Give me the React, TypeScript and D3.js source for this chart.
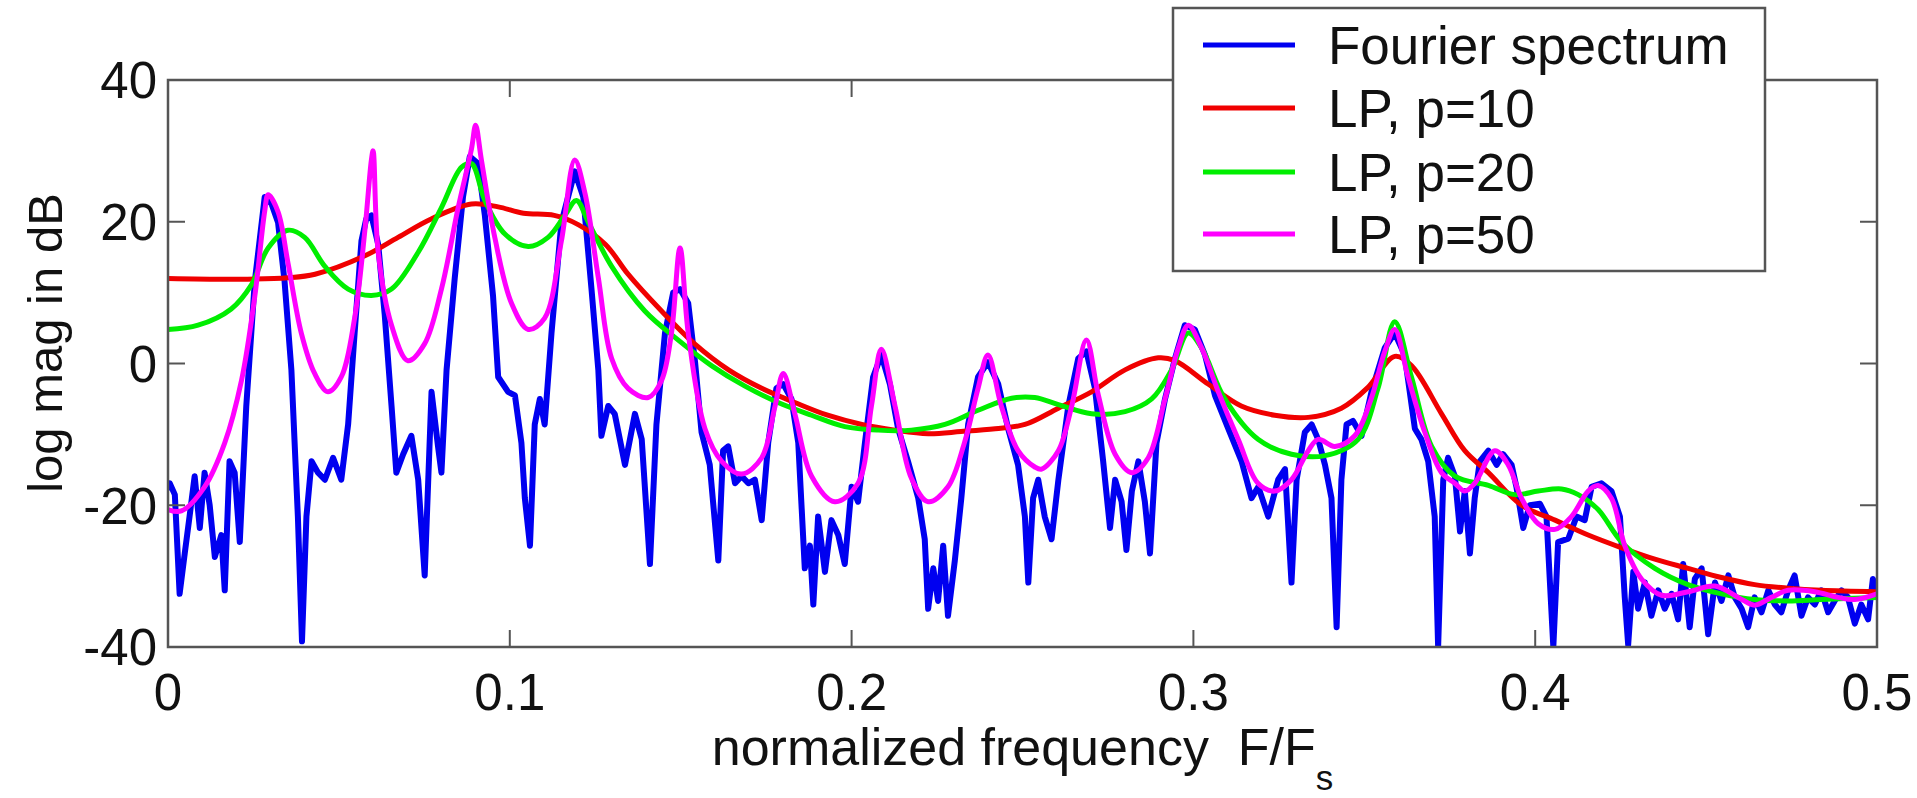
import { useEffect, useMemo } from 'react';
import { scaleLinear, line, curveLinear, curveCatmullRom } from 'd3';

// [normalized frequency, log magnitude in dB]
const fourierSpectrum: [number, number][] = [
  [0, -17.5], [0.0005, -16.9], [0.002, -18.5], [0.0034, -32.5], [0.0049, -26.8], [0.0063, -21.6],
  [0.0078, -15.9], [0.0093, -23.2], [0.0107, -15.4], [0.0122, -20], [0.0137, -27.3], [0.0156, -24.2],
  [0.0166, -32], [0.018, -13.8], [0.0195, -15.4], [0.021, -25.2], [0.0229, -6], [0.0254, 11.6],
  [0.0283, 23.5], [0.0303, 22.5], [0.0322, 19.9], [0.0341, 11.6], [0.0361, -0.9], [0.038, -21.6],
  [0.0392, -39.2], [0.0405, -21.6], [0.042, -13.8], [0.0439, -15.4], [0.0459, -16.4], [0.0483, -13.3],
  [0.0507, -16.4], [0.0527, -8.6], [0.0546, 4.3], [0.0566, 17.3], [0.058, 20.4], [0.0595, 20.9],
  [0.0615, 16.8], [0.0634, 6.9], [0.0654, -6], [0.0668, -15.4], [0.0688, -12.8], [0.0712, -10.2],
  [0.0732, -16.4], [0.0751, -29.9], [0.0771, -4], [0.079, -11.7], [0.08, -15.4], [0.0815, -0.9],
  [0.0839, 12.1], [0.0863, 23.5], [0.0883, 29.2], [0.0907, 28.2], [0.0927, 20.9], [0.0951, 9.5],
  [0.0966, -1.9], [0.0995, -4], [0.1015, -4.5], [0.1034, -11.2], [0.1044, -19], [0.1059, -25.7],
  [0.1073, -8.6], [0.1088, -5], [0.1102, -8.6], [0.1122, 4.3], [0.1151, 19.9], [0.119, 27.1],
  [0.1215, 23.5], [0.1239, 10.5], [0.1259, -0.9], [0.1268, -10.2], [0.1288, -6], [0.1307, -7.1],
  [0.1337, -14.3], [0.1366, -7.1], [0.1386, -10.7], [0.141, -28.3], [0.1429, -8.6], [0.1454, 4.3],
  [0.1478, 10], [0.1498, 10.5], [0.1522, 8.5], [0.1542, 0.2], [0.1561, -9.7], [0.1585, -14.3],
  [0.161, -27.8], [0.1624, -12.3], [0.1639, -11.7], [0.1659, -16.9], [0.1678, -15.9], [0.1698, -16.9],
  [0.1717, -16.4], [0.1737, -22.1], [0.1756, -11.2], [0.178, -3.5], [0.18, -2.9], [0.1824, -5],
  [0.1844, -11.2], [0.1863, -28.9], [0.1878, -25.7], [0.1888, -34], [0.1902, -21.6], [0.1922, -29.4],
  [0.1941, -22.1], [0.1961, -24.2], [0.198, -28.3], [0.2, -17.4], [0.2019, -19.5], [0.2039, -11.2],
  [0.2063, -1.9], [0.2087, 1.2], [0.2112, -2.9], [0.2136, -9.2], [0.2165, -13.8], [0.2195, -19],
  [0.2214, -24.8], [0.2224, -34.6], [0.2239, -28.9], [0.2253, -33.5], [0.2268, -25.7], [0.2282, -35.6],
  [0.2302, -27.8], [0.2321, -19], [0.2341, -8.6], [0.237, -1.9], [0.2399, 0.2], [0.2429, -2.9],
  [0.2458, -9.2], [0.2487, -14.3], [0.2507, -21.6], [0.2517, -30.9], [0.2531, -19], [0.2546, -16.4],
  [0.2565, -21.6], [0.2585, -24.8], [0.2605, -16.4], [0.2634, -6], [0.2663, 0.7], [0.2687, 1.7],
  [0.2712, -3.5], [0.2736, -13.8], [0.2756, -23.2], [0.2771, -16.4], [0.279, -19.5], [0.2804, -26.3],
  [0.282, -18], [0.2839, -13.8], [0.2858, -19.5], [0.2873, -26.8], [0.2892, -11.2], [0.2917, -5],
  [0.2946, 0.7], [0.2975, 5.4], [0.3004, 4.8], [0.3034, 1.2], [0.3063, -4.5], [0.3102, -9.2],
  [0.3141, -13.8], [0.317, -19], [0.319, -17.4], [0.3219, -21.6], [0.3248, -16.4], [0.3268, -14.9],
  [0.3287, -30.9], [0.3302, -16.4], [0.3326, -9.7], [0.3346, -8.6], [0.3365, -10.7], [0.3385, -14.3],
  [0.3404, -19], [0.3419, -37.2], [0.3433, -16.4], [0.3448, -8.6], [0.3467, -8.1], [0.3492, -10.2],
  [0.3521, -4], [0.356, 2.2], [0.3589, 4.3], [0.3618, 1.2], [0.3648, -9.2], [0.3667, -10.7],
  [0.3687, -13.8], [0.3706, -21.6], [0.3716, -40], [0.3731, -16.4], [0.3745, -13.3], [0.3765, -15.9],
  [0.378, -23.7], [0.3794, -18], [0.3809, -26.8], [0.3823, -19], [0.3838, -13.8], [0.3863, -12.3],
  [0.3887, -14.3], [0.3906, -12.8], [0.3931, -14.3], [0.3945, -17.4], [0.3965, -23.2], [0.3984, -20],
  [0.4014, -19.8], [0.4033, -21.6], [0.4053, -40], [0.4067, -25.2], [0.4097, -24.7], [0.4121, -21.6],
  [0.4145, -22.1], [0.4165, -17.4], [0.4194, -16.9], [0.4223, -18], [0.4248, -21.6], [0.4262, -33],
  [0.4272, -39.7], [0.4287, -29.4], [0.4301, -34.6], [0.4321, -30.9], [0.434, -35.6], [0.436, -32],
  [0.4379, -34.6], [0.4399, -32.5], [0.4418, -36.1], [0.4433, -28.3], [0.4452, -37.2], [0.4467, -30.4],
  [0.4487, -28.9], [0.4506, -38.2], [0.4526, -30.9], [0.4545, -33.5], [0.4565, -29.9], [0.4584, -33],
  [0.4604, -34.6], [0.4623, -37.2], [0.4642, -33], [0.4662, -35.1], [0.4682, -32], [0.4701, -34],
  [0.472, -35.1], [0.474, -32], [0.4759, -29.9], [0.4779, -35.6], [0.4798, -33], [0.4818, -34],
  [0.4837, -32], [0.4857, -35.1], [0.4876, -33.5], [0.4896, -32], [0.4915, -33], [0.4935, -36.7],
  [0.4954, -34], [0.4974, -36.1], [0.4988, -30.4], [0.5, -33],
];

const lpOrder10: [number, number][] = [
  [0, 12], [0.02, 11.9], [0.035, 12.1], [0.043, 12.6], [0.0576, 15.2], [0.0673, 17.8], [0.077, 20.4],
  [0.0888, 22.5], [0.0966, 22.1], [0.104, 21.2], [0.113, 20.9], [0.12, 19.6], [0.128, 16.8],
  [0.1346, 12.6], [0.1444, 7.4], [0.154, 2.8], [0.164, -0.9], [0.1737, -3.5], [0.1834, -5.5],
  [0.193, -7.3], [0.203, -8.6], [0.2127, -9.4], [0.2224, -9.9], [0.232, -9.6], [0.242, -9.2],
  [0.2507, -8.6], [0.2605, -6.3], [0.2702, -4], [0.28, -0.9], [0.2897, 0.8], [0.2946, 0.4],
  [0.3043, -2.9], [0.314, -6], [0.3238, -7.3], [0.3336, -7.6], [0.3433, -6.3], [0.351, -3.4],
  [0.3589, 1], [0.3638, -0.3], [0.3726, -7.1], [0.3794, -12.3], [0.3863, -15.4], [0.396, -20],
  [0.4058, -22.1], [0.4155, -24.2], [0.4253, -26], [0.435, -27.6], [0.4447, -28.9], [0.4545, -30.2],
  [0.4642, -31.2], [0.474, -31.7], [0.4837, -32], [0.5, -32.2],
];

const lpOrder20: [number, number][] = [
  [0, 4.8], [0.0088, 5.4], [0.0185, 7.7], [0.0244, 11.1], [0.0293, 16.3], [0.0351, 18.8], [0.04, 17.8],
  [0.0459, 13.7], [0.0527, 10.5], [0.0595, 9.6], [0.0654, 10.5], [0.0732, 15.7], [0.08, 22],
  [0.0859, 27.7], [0.0888, 28.2], [0.0927, 23], [0.0985, 18.3], [0.1054, 16.5], [0.1112, 17.8],
  [0.1161, 20.9], [0.1195, 23], [0.123, 19.9], [0.1298, 13.7], [0.1395, 7.4], [0.1493, 3.3],
  [0.159, -0.3], [0.1688, -3.2], [0.1785, -5.5], [0.1883, -7.3], [0.198, -8.9], [0.2078, -9.4],
  [0.2175, -9.4], [0.2273, -8.6], [0.237, -6.6], [0.2468, -4.9], [0.2536, -4.8], [0.2605, -5.8],
  [0.2702, -7.1], [0.28, -6.8], [0.2878, -5], [0.2936, -0.9], [0.2985, 4.3], [0.3024, 2.2],
  [0.3092, -5], [0.3189, -10.7], [0.3287, -12.8], [0.3385, -13], [0.3482, -10.7], [0.354, -3.5],
  [0.3589, 5.9], [0.3638, -1.9], [0.3697, -11.7], [0.3765, -15.9], [0.3863, -17.2], [0.394, -18.5],
  [0.4009, -18], [0.4077, -17.7], [0.4126, -18.5], [0.4184, -20.6], [0.4253, -25.2], [0.435, -28.9],
  [0.4447, -31.2], [0.4545, -32.5], [0.4642, -33.3], [0.474, -33.5], [0.4837, -33.3], [0.5, -33],
];

const lpOrder50: [number, number][] = [
  [0, -20.6], [0.0039, -20.8], [0.0107, -17.4], [0.0166, -11.2], [0.0215, -2.4], [0.0254, 9.5],
  [0.0283, 21.5], [0.0293, 23.8], [0.0322, 21.4], [0.0351, 14.2], [0.039, 4.3], [0.0429, -1.4],
  [0.0468, -4], [0.0507, -1.9], [0.0546, 6.4], [0.0576, 18.8], [0.0595, 28.7], [0.06, 30],
  [0.0615, 15.7], [0.0654, 5.4], [0.0702, 0.4], [0.0751, 2.8], [0.08, 10.5], [0.0849, 22],
  [0.0888, 30.3], [0.09, 33.6], [0.0917, 28.7], [0.0956, 17.8], [0.1005, 8.5], [0.1054, 4.8],
  [0.1102, 6.4], [0.1151, 17.3], [0.119, 28.7], [0.122, 24], [0.1259, 12.1], [0.1298, 0.7],
  [0.1346, -3.5], [0.1405, -4.8], [0.1444, -2.4], [0.1473, 4.3], [0.1498, 16.3], [0.1522, 4.3],
  [0.1571, -9.2], [0.162, -13.8], [0.1678, -15.6], [0.1737, -13.3], [0.1776, -6], [0.18, -1.4],
  [0.1834, -7.1], [0.1883, -15.9], [0.1951, -19.5], [0.2019, -16.9], [0.2058, -6], [0.2087, 2],
  [0.2127, -6], [0.2175, -16.2], [0.2224, -19.5], [0.2282, -17.4], [0.233, -11.2], [0.237, -3.5],
  [0.2399, 1.2], [0.2438, -6], [0.2487, -12.3], [0.2536, -14.6], [0.2556, -14.9], [0.2605, -12.3],
  [0.2644, -6], [0.2687, 3.3], [0.2722, -4.5], [0.2771, -12.8], [0.282, -15.4], [0.2868, -13.3],
  [0.2917, -5], [0.2956, 2.2], [0.2985, 5.4], [0.3024, 2.2], [0.3073, -4], [0.3131, -10.7],
  [0.3189, -16.9], [0.3238, -18], [0.3287, -16.4], [0.3336, -12.3], [0.3365, -10.7], [0.3414, -11.7],
  [0.3472, -10.2], [0.352, -5], [0.356, 1.7], [0.3589, 4.8], [0.3628, -1.9], [0.3677, -9.7],
  [0.3726, -15.4], [0.3765, -16.9], [0.3794, -18], [0.3823, -16.9], [0.3882, -12.3], [0.3921, -14.3],
  [0.396, -19], [0.4009, -22.6], [0.4058, -23.4], [0.4106, -21.6], [0.4155, -18], [0.4184, -17.2],
  [0.4223, -19], [0.4262, -25.7], [0.4311, -30.4], [0.437, -32.7], [0.4447, -32.2], [0.4526, -31.4],
  [0.4594, -33], [0.4642, -34.1], [0.4691, -33], [0.474, -32], [0.4818, -32.2], [0.4886, -33],
  [0.4935, -33.3], [0.5, -32.5],
];

const seriesNames = ['Fourier spectrum', 'LP, p=10', 'LP, p=20', 'LP, p=50'];
const seriesColors = ['#0000f0', '#f00000', '#00ee00', '#ff00ff'];

const xTicks = [0, 0.1, 0.2, 0.3, 0.4, 0.5];
const xTickLabels = ['0', '0.1', '0.2', '0.3', '0.4', '0.5'];
const yTicks = [-40, -20, 0, 20, 40];
const yTickLabels = ['-40', '-20', '0', '20', '40'];

const FONT = '"Liberation Sans", Arial, Helvetica, sans-serif';

const App = () => {
    const width = 1917;
    const height = 798;
    const plot = { left: 168, right: 1877, top: 80, bottom: 647 };

    useEffect(() => {
        document.body.style.margin = '0';
        document.body.style.background = '#ffffff';
    }, []);

    const x = useMemo(() => scaleLinear().domain([0, 0.5]).range([plot.left, plot.right]), []);
    const y = useMemo(() => scaleLinear().domain([-40, 40]).range([plot.bottom, plot.top]), []);

    const jagged = line<[number, number]>().x(d => x(d[0])).y(d => y(d[1])).curve(curveLinear);
    const smooth = line<[number, number]>().x(d => x(d[0])).y(d => y(d[1])).curve(curveCatmullRom.alpha(0.5));

    const series = [
        { data: fourierSpectrum, path: jagged, width: 6 },
        { data: lpOrder10, path: smooth, width: 5 },
        { data: lpOrder20, path: smooth, width: 5 },
        { data: lpOrder50, path: smooth, width: 5 },
    ];

    const tickLen = 17;
    const axisColor = '#555';

    // legend box
    const lg = { left: 1173, right: 1765, top: 8, bottom: 271 };
    const lgRows = [45, 108, 172, 234];

    return (
        <svg width={width} height={height} style={{ display: 'block', background: '#fff' }}>
            <defs>
                <clipPath id="plotClip">
                    <rect x={plot.left} y={plot.top} width={plot.right - plot.left} height={plot.bottom - plot.top} />
                </clipPath>
            </defs>

            <rect x={plot.left} y={plot.top} width={plot.right - plot.left} height={plot.bottom - plot.top} fill="#fff" />

            {/* data lines */}
            <g clipPath="url(#plotClip)" fill="none" strokeLinejoin="round" strokeLinecap="round">
                {series.map((s, i) => (
                    <path key={seriesNames[i]} d={s.path(s.data) || ''} stroke={seriesColors[i]} strokeWidth={s.width} />
                ))}
            </g>

            {/* inward ticks on all sides */}
            <g stroke={axisColor} strokeWidth={2}>
                {xTicks.slice(1, -1).map(t => (
                    <g key={'xt' + t}>
                        <line x1={x(t)} x2={x(t)} y1={plot.bottom} y2={plot.bottom - tickLen} />
                        <line x1={x(t)} x2={x(t)} y1={plot.top} y2={plot.top + tickLen} />
                    </g>
                ))}
                {yTicks.slice(1, -1).map(t => (
                    <g key={'yt' + t}>
                        <line x1={plot.left} x2={plot.left + tickLen} y1={y(t)} y2={y(t)} />
                        <line x1={plot.right} x2={plot.right - tickLen} y1={y(t)} y2={y(t)} />
                    </g>
                ))}
            </g>

            {/* frame */}
            <rect x={plot.left} y={plot.top} width={plot.right - plot.left} height={plot.bottom - plot.top}
                fill="none" stroke={axisColor} strokeWidth={2.5} />

            {/* tick labels */}
            <g fontFamily={FONT} fontSize={51} fill="#111">
                {xTicks.map((t, i) => (
                    <text key={'xl' + t} x={x(t)} y={710} textAnchor="middle">{xTickLabels[i]}</text>
                ))}
                {yTicks.map((t, i) => (
                    <text key={'yl' + t} x={plot.left - 11} y={y(t)} dy="0.36em" textAnchor="end">{yTickLabels[i]}</text>
                ))}
            </g>

            {/* axis titles */}
            <text x={(plot.left + plot.right) / 2} y={765} textAnchor="middle" fontFamily={FONT} fontSize={52} fill="#111"
                style={{ whiteSpace: 'pre' }}>
                {'normalized frequency  F/F'}
                <tspan fontSize={35} dy={25}>s</tspan>
            </text>
            <text transform={`translate(62,343) rotate(-90)`} textAnchor="middle" fontFamily={FONT} fontSize={49} fill="#111">
                log mag in dB
            </text>

            {/* legend */}
            <rect x={lg.left} y={lg.top} width={lg.right - lg.left} height={lg.bottom - lg.top}
                fill="#fff" stroke={axisColor} strokeWidth={2.5} />
            {seriesNames.map((name, i) => (
                <g key={name}>
                    <line x1={1203} x2={1295} y1={lgRows[i]} y2={lgRows[i]} stroke={seriesColors[i]} strokeWidth={5} />
                    <text x={1328} y={lgRows[i]} dy="0.36em" fontFamily={FONT} fontSize={53} fill="#111">{name}</text>
                </g>
            ))}
        </svg>
    );
};

export default App;
